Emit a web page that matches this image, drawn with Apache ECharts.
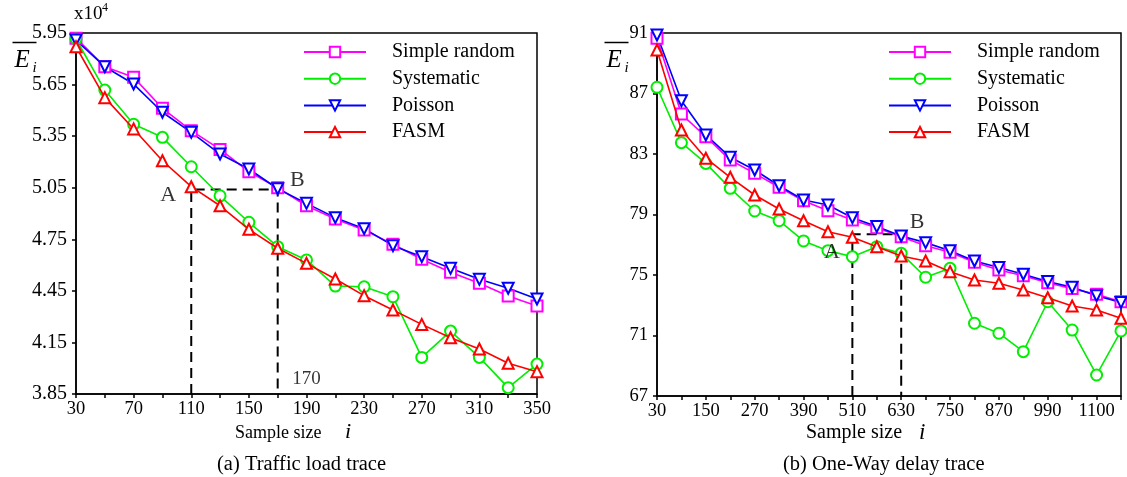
<!DOCTYPE html>
<html><head><meta charset="utf-8">
<script src="https://cdn.jsdelivr.net/npm/echarts@6/dist/echarts.min.js"></script>
<style>html,body{margin:0;padding:0;background:#fff}#c{width:1127px;height:477px}</style>
</head><body><div id="c"></div>
<script>
// ---------- data: (a) Traffic load trace (x10^4) ----------
const xA = [30,50,70,90,110,130,150,170,190,210,230,250,270,290,310,330,350];
const simpleA = [5.92,5.754,5.692,5.512,5.382,5.273,5.143,5.05,4.945,4.868,4.804,4.721,4.634,4.558,4.494,4.420,4.362];
const systA   = [5.915,5.618,5.419,5.343,5.172,5.003,4.849,4.707,4.630,4.478,4.474,4.416,4.063,4.216,4.063,3.887,4.024];
const poisA   = [5.909,5.754,5.653,5.489,5.372,5.246,5.159,5.044,4.959,4.876,4.812,4.713,4.649,4.581,4.517,4.465,4.403];
const fasmA   = [5.870,5.574,5.392,5.207,5.056,4.945,4.808,4.698,4.610,4.519,4.422,4.339,4.255,4.177,4.112,4.029,3.980];
const yTicksA = [3.85,4.15,4.45,4.75,5.05,5.35,5.65,5.95];
const xLabelsA = [30,70,110,150,190,230,270,310,350];
const xTicksA = [30,50,70,90,110,130,150,170,190,210,230,250,270,290,310,330,350];
const guideA = [[110,3.85],[110,5.04],[170,5.04],[170,3.85]];
const notesA = [[94,5.008,'A'],[183.7,5.095,'B']];
const notesA2 = [[190,3.94,'170']];

// ---------- data: (b) One-Way delay trace ----------
const xB = [30,90,150,210,270,330,390,450,510,570,630,690,750,810,870,930,990,1050,1110,1170];
const simpleB = [90.65,85.64,84.14,82.60,81.72,80.80,79.91,79.25,78.64,78.13,77.53,76.94,76.50,75.84,75.33,74.95,74.49,74.10,73.72,73.23];
const systB   = [87.41,83.75,82.38,80.73,79.23,78.59,77.25,76.61,76.21,76.87,76.43,74.85,75.44,71.81,71.15,69.93,73.23,71.36,68.39,71.30];
const poisB   = [90.87,86.52,84.26,82.78,81.94,80.90,79.96,79.63,78.79,78.20,77.58,77.14,76.61,75.93,75.49,75.05,74.57,74.19,73.63,73.19];
const fasmB   = [89.88,84.59,82.72,81.46,80.29,79.36,78.59,77.86,77.49,76.87,76.26,75.93,75.22,74.67,74.45,74.01,73.50,72.95,72.69,72.14];
const yTicksB = [67,71,75,79,83,87,91];
const xLabelValsB = [30,150,270,390,510,630,750,870,990,1110];
const xLabelTextB = ['30','150','270','390','510','630','750','870','990','1100'];
const xTicksB = [30,90,150,210,270,330,390,450,510,570,630,690,750,810,870,930,990,1050,1110,1170];
const guideB = [[510,67],[510,77.69],[630,77.69],[630,67]];
const notesB = [[460,76.52,'A'],[669,78.5,'B']];

const names = ['Simple random','Systematic','Poisson','FASM'];
const colors = ['#ff00ff','#00ee00','#0000ff','#ff0000'];
const symbols = ['emptyRect','emptyCircle','emptyTriangle','emptyTriangle'];
const rot = [0,0,180,0];

const FONT = 'Liberation Serif';
const zip = (xs, ys) => xs.map((x,i)=>[x, ys[i]]);

function lineSeries(idx, xs, ys, k){
  return {
    name: names[k], type:'line', xAxisIndex: idx, yAxisIndex: idx,
    data: zip(xs, ys), symbol: symbols[k], symbolRotate: rot[k], symbolSize: 11,
    lineStyle:{color:colors[k], width:1.6}, itemStyle:{color:colors[k], borderWidth:1.6},
    emphasis:{disabled:true}, z: 3 + (k===3?1:0)
  };
}
function guide(idx, pts){
  return {type:'line', xAxisIndex: idx, yAxisIndex: idx, data: pts, symbol:'none', silent:true,
    lineStyle:{color:'#000', width:2, type:[10,6]}, z:2};
}
function notes(idx, pts, size){
  return {type:'scatter', xAxisIndex: idx, yAxisIndex: idx, data: pts, symbolSize:0, silent:true, z:20, zlevel:0,
    label:{show:true, position:'inside', formatter: p => p.data[2], fontFamily:FONT, fontSize:size, color:'#000'}};
}
function xAxis(idx, min, max, ticks, labels, fmt){
  return {type:'value', gridIndex: idx, min, max,
    axisLine:{show:true, lineStyle:{color:'#000', width:1.5}},
    axisTick:{show:true, customValues: ticks, length:4, inside:false, lineStyle:{color:'#000', width:1.5}},
    axisLabel:{customValues: labels, fontFamily:FONT, fontSize:18.5, color:'#000', margin:6, formatter: fmt},
    splitLine:{show:false}};
}
function yAxis(idx, min, max, ticks, size){
  return {type:'value', gridIndex: idx, min, max,
    axisLine:{show:true, lineStyle:{color:'#000', width:1.5}},
    axisTick:{show:true, customValues: ticks, length:4, lineStyle:{color:'#000', width:1.5}},
    axisLabel:{customValues: ticks, fontFamily:FONT, fontSize:size, color:'#000', margin:9,
      formatter: v => (idx===0 ? v.toFixed(2) : String(v))},
    splitLine:{show:false}};
}
function legend(left){
  return {left, top:37, orient:'vertical', data:names, itemWidth:62, itemHeight:13, itemGap:6.7,
    selectedMode:false,
    textStyle:{fontFamily:FONT, fontSize:20, lineHeight:20, color:'#000', padding:[0,0,0,21]}};
}

const chart = echarts.init(document.getElementById('c'), null, {renderer:'canvas'});
const series = [];
for (let k=0;k<4;k++) series.push(lineSeries(0, xA, [simpleA,systA,poisA,fasmA][k], k));
for (let k=0;k<4;k++) series.push(lineSeries(1, xB, [simpleB,systB,poisB,fasmB][k], k));
series.push(guide(0, guideA), guide(1, guideB), notes(0, notesA, 22), notes(0, notesA2, 19), notes(1, notesB, 22));

function ebar(x){
  return {type:'group', left:x, top:40, children:[
    {type:'line', shape:{x1:0,y1:0,x2:24,y2:0}, style:{stroke:'#000', lineWidth:1.5}},
    {type:'text', x:2, y:5, style:{text:'E', font:'italic 25px "Liberation Serif"', fill:'#000'}},
    {type:'text', x:20, y:18, style:{text:'i', font:'italic 15px "Liberation Serif"', fill:'#000'}}
  ]};
}

chart.setOption({
  animation:false,
  backgroundColor:'#fff',
  grid:[
    {left:76, top:33, width:461, height:361, show:true, borderColor:'#000', borderWidth:1.5, backgroundColor:'transparent'},
    {left:657, top:33, width:464, height:363, show:true, borderColor:'#000', borderWidth:1.5, backgroundColor:'transparent'}
  ],
  xAxis:[
    xAxis(0, 30, 350, xTicksA, xLabelsA, v => String(v)),
    xAxis(1, 30, 1170, xTicksB, xLabelValsB, v => xLabelTextB[xLabelValsB.indexOf(v)])
  ],
  yAxis:[ yAxis(0, 3.85, 5.95, yTicksA, 20), yAxis(1, 67, 91, yTicksB, 18.5) ],
  legend:[ legend(298), legend(883) ],
  series,
  graphic:[
    ebar(10), ebar(602),
    {type:'text', left:74, top:5, style:{text:'x10', font:'19px "Liberation Serif"', fill:'#000'}},
    {type:'text', left:102, top:2, style:{text:'4', font:'12px "Liberation Serif"', fill:'#000'}},
    {type:'text', left:235, top:424, style:{text:'Sample size', font:'18px "Liberation Serif"', fill:'#000'}},
    {type:'text', left:345, top:421, style:{text:'i', font:'italic 22px "Liberation Serif"', fill:'#000'}},
    {type:'text', left:217, top:454, style:{text:'(a) Traffic load trace', font:'20.5px "Liberation Serif"', fill:'#000'}},
    {type:'text', left:806, top:423, style:{text:'Sample size', font:'20px "Liberation Serif"', fill:'#000'}},
    {type:'text', left:919, top:421, style:{text:'i', font:'italic 23px "Liberation Serif"', fill:'#000'}},
    {type:'text', left:783, top:454, style:{text:'(b) One-Way delay trace', font:'20.5px "Liberation Serif"', fill:'#000'}}
  ]
});
</script></body></html>
